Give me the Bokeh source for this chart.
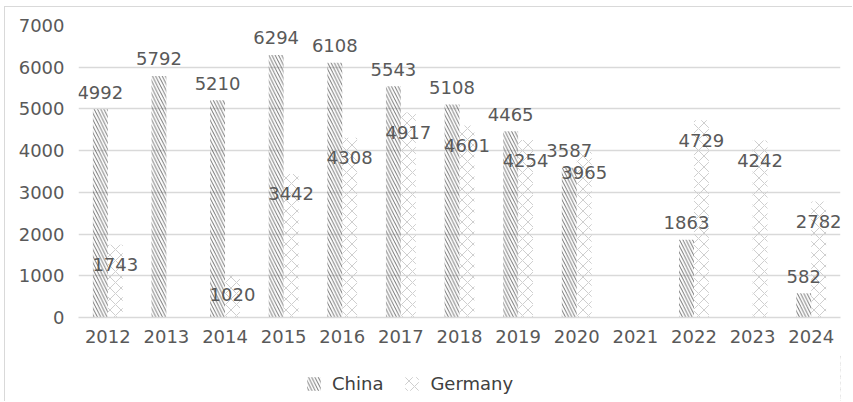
from bokeh.plotting import figure
from bokeh.models import ColumnDataSource, FactorRange, Range1d, Legend, LegendItem, LabelSet, FixedTicker
from bokeh.layouts import column
from bokeh.transform import dodge
from bokeh.core.properties import value
from bokeh.embed import file_html
from bokeh.resources import INLINE

years = ["2012", "2013", "2014", "2015", "2016", "2017", "2018", "2019", "2020", "2021", "2022", "2023", "2024"]
china = [4992, 5792, 5210, 6294, 6108, 5543, 5108, 4465, 3587, None, 1863, None, 582]
germany = [1743, None, 1020, 3442, 4308, 4917, 4601, 4254, 3965, None, 4729, 4242, 2782]
y_ticks = [0, 1000, 2000, 3000, 4000, 5000, 6000, 7000]

FONT = "DejaVu Sans"
TEXT = "#595959"
GRID = "#d9d9d9"
CHINA_HATCH = dict(hatch_pattern="\\", hatch_color="#4a4a4a", hatch_scale=6.5, hatch_weight=0.8)
GER_HATCH = dict(hatch_pattern="x", hatch_color="#cfcfcf", hatch_scale=11, hatch_weight=1)

def col(vals):
    return [float("nan") if v is None else v for v in vals]

def lab(vals):
    return ["" if v is None else str(v) for v in vals]

src = ColumnDataSource(dict(
    year=years,
    china=col(china), germany=col(germany),
    china_lbl=lab(china), germany_lbl=lab(germany),
))

p = figure(
    x_range=FactorRange(*years), y_range=Range1d(0, 7000),
    width=847, height=348, output_backend="svg", toolbar_location=None,
    min_border_left=73, min_border_right=12, min_border_top=18, min_border_bottom=38,
)
p.outline_line_color = None
p.background_fill_color = "white"
p.border_fill_color = "white"

W = 0.255
r_china = p.vbar(x=dodge("year", -W / 2, range=p.x_range), top="china", width=W, source=src,
                 fill_alpha=0, line_color=None, **CHINA_HATCH)
r_ger = p.vbar(x=dodge("year", W / 2, range=p.x_range), top="germany", width=W, source=src,
               fill_alpha=0, line_color=None, **GER_HATCH)

lbl_c = LabelSet(x=dodge("year", -W / 2, range=p.x_range), y="china", text="china_lbl", source=src,
                 text_align="center", text_baseline="middle", y_offset=17,
                 text_font=value(FONT), text_font_size="18px", text_color=TEXT)
lbl_g = LabelSet(x=dodge("year", W / 2, range=p.x_range), y="germany", text="germany_lbl", source=src,
                 text_align="center", text_baseline="middle", y_offset=-20,
                 text_font=value(FONT), text_font_size="18px", text_color=TEXT)
p.add_layout(lbl_c)
p.add_layout(lbl_g)

p.xgrid.grid_line_color = None
p.ygrid.grid_line_color = GRID
p.ygrid.grid_line_width = 1.5
p.yaxis.ticker = FixedTicker(ticks=y_ticks)
p.yaxis.axis_line_color = None
p.yaxis.major_tick_line_color = None
p.yaxis.minor_tick_line_color = None
p.yaxis.major_label_standoff = 8
p.xaxis.axis_line_color = GRID
p.xaxis.axis_line_width = 1.5
p.xaxis.major_tick_line_color = None
p.xaxis.minor_tick_line_color = None
p.xaxis.major_label_standoff = 6
for ax in (p.xaxis, p.yaxis):
    ax.major_label_text_font = FONT
    ax.major_label_text_font_size = "18px"
    ax.major_label_text_color = TEXT

# legend strip below the chart (its renderers hold a point outside the visible range)
lf = figure(width=847, height=46, x_range=Range1d(0, 1), y_range=Range1d(0, 1),
            output_backend="svg", toolbar_location=None,
            x_axis_location=None, y_axis_location=None, min_border=0)
lf.outline_line_color = None
lf.grid.visible = False
lf.border_fill_color = "white"
lc = lf.vbar(x=[5], top=[1], width=0.1, fill_alpha=0, line_color=None, **CHINA_HATCH)
lg = lf.vbar(x=[5], top=[1], width=0.1, fill_alpha=0, line_color=None, **GER_HATCH)
legend = Legend(items=[LegendItem(label="China", renderers=[lc]),
                       LegendItem(label="Germany", renderers=[lg])],
                orientation="horizontal", location=(227, 7),
                border_line_color=None, background_fill_alpha=0,
                padding=0, spacing=20, glyph_width=17, glyph_height=17, label_standoff=10,
                label_text_font=FONT, label_text_font_size="18px", label_text_color="#404040")
lf.add_layout(legend, "center")

layout = column(p, lf, spacing=0)
layout.margin = (6, 0, 0, 4)
layout.styles = {"border-left": "1px solid #d9d9d9", "border-top": "1px solid #d9d9d9"}

open("out.html", "w").write(file_html(layout, INLINE))
